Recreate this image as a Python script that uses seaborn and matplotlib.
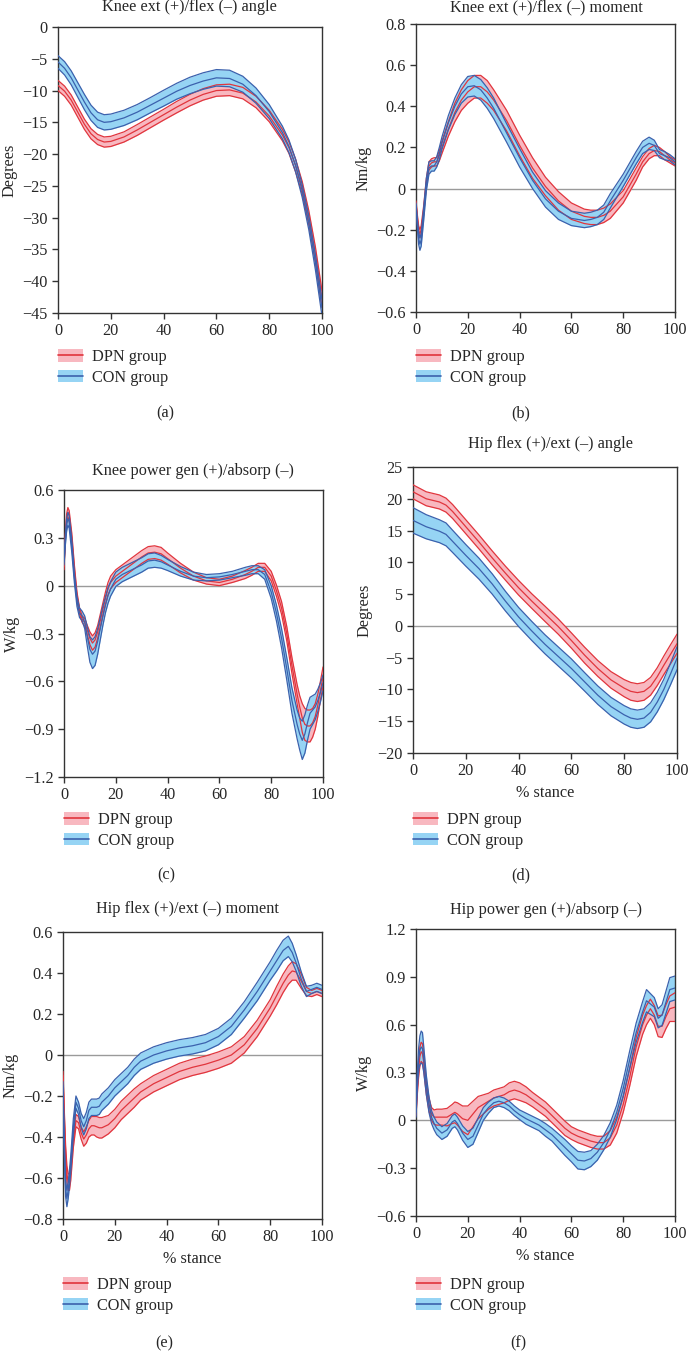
import numpy as np
import pandas as pd
import matplotlib
matplotlib.use("Agg")
import matplotlib.pyplot as plt
import seaborn as sns
from matplotlib.patches import Patch
from matplotlib.lines import Line2D
from matplotlib.ticker import FuncFormatter

# --- (a) Knee ext (+)/flex (-) angle ---
a_x = [0, 2.5, 5, 7.5, 10, 12.5, 15, 17.5, 20, 25, 30, 35, 40, 45, 50, 55, 60, 65, 70, 75,
       80, 85, 87.5, 90, 92.5, 95, 97.5, 100]
a_con_mean = [-5.5, -6.5, -8.0, -9.9, -11.8, -13.5, -14.6, -15.0, -14.9, -14.3, -13.4, -12.3, -11.2,
              -10.1, -9.2, -8.5, -8.0, -8.1, -9.0, -10.8, -13.3, -16.6, -18.8, -21.8, -25.8, -30.8,
              -37.0, -44.2]
a_con_sd = [1.0, 1.05, 1.1, 1.15, 1.2, 1.2, 1.2, 1.2, 1.2, 1.2, 1.2, 1.2, 1.25, 1.25, 1.3, 1.3, 1.3,
            1.3, 1.25, 1.2, 1.1, 1.0, 1.0, 1.0, 1.0, 1.1, 1.2, 1.3]
a_dpn_mean = [-9.2, -10.1, -11.5, -13.4, -15.3, -16.8, -17.7, -18.1, -18.0, -17.3, -16.2, -15.0, -13.8,
              -12.6, -11.5, -10.6, -10.0, -9.9, -10.4, -11.8, -14.0, -17.0, -19.0, -21.8, -25.3, -30.0,
              -35.8, -42.8]
a_dpn_sd = [0.8, 0.8, 0.8, 0.8, 0.8, 0.8, 0.8, 0.8, 0.8, 0.8, 0.85, 0.85, 0.85, 0.9, 0.9, 0.9, 0.9,
            0.9, 0.9, 0.9, 0.9, 0.9, 0.9, 1.0, 1.0, 1.1, 1.2, 1.3]

# --- (b) Knee ext (+)/flex (-) moment ---
b_x = [0, 0.5, 1, 1.5, 2, 3, 4, 5, 6, 7, 8, 9, 10, 12.5, 15, 17.5, 20, 22.5, 25, 27.5, 30, 35, 40,
       45, 50, 55, 60, 65, 67.5, 70, 72.5, 75, 80, 85, 87.5, 90, 92, 94, 96, 98, 100]
b_con_mean = [-0.08, -0.17, -0.24, -0.27, -0.25, -0.12, 0.02, 0.10, 0.11, 0.11, 0.13, 0.17, 0.22, 0.32,
              0.40, 0.46, 0.495, 0.50, 0.48, 0.44, 0.39, 0.27, 0.15, 0.04, -0.05, -0.11, -0.145, -0.155,
              -0.15, -0.14, -0.115, -0.06, 0.04, 0.15, 0.20, 0.22, 0.21, 0.17, 0.16, 0.15, 0.13]
b_con_sd = [0.01, 0.02, 0.03, 0.03, 0.03, 0.03, 0.03, 0.03, 0.025, 0.025, 0.025, 0.03, 0.03, 0.035, 0.04,
            0.045, 0.05, 0.05, 0.05, 0.05, 0.05, 0.045, 0.045, 0.04, 0.04, 0.04, 0.035, 0.035, 0.035, 0.035,
            0.035, 0.035, 0.03, 0.03, 0.03, 0.03, 0.025, 0.02, 0.02, 0.015, 0.015]
b_dpn_mean = [-0.07, -0.14, -0.20, -0.22, -0.20, -0.10, 0.03, 0.11, 0.125, 0.13, 0.13, 0.16, 0.20, 0.29,
              0.37, 0.43, 0.47, 0.495, 0.495, 0.47, 0.43, 0.33, 0.21, 0.10, 0.01, -0.06, -0.11, -0.135,
              -0.14, -0.14, -0.13, -0.11, -0.04, 0.07, 0.13, 0.17, 0.185, 0.18, 0.16, 0.14, 0.125]
b_dpn_sd = [0.01, 0.015, 0.02, 0.02, 0.02, 0.02, 0.02, 0.02, 0.02, 0.02, 0.02, 0.025, 0.03, 0.035, 0.045,
            0.05, 0.055, 0.055, 0.055, 0.055, 0.05, 0.05, 0.05, 0.05, 0.045, 0.045, 0.04, 0.035, 0.035,
            0.035, 0.035, 0.035, 0.03, 0.03, 0.025, 0.025, 0.025, 0.02, 0.02, 0.015, 0.015]

# --- (c) Knee power gen (+)/absorp (-) ---
c_x = [0, 0.5, 1, 1.5, 2, 3, 4, 5, 6, 7, 8, 9, 10, 11, 12, 13, 14, 15, 16, 17, 18, 20, 22.5, 25, 27.5,
       30, 32.5, 35, 37.5, 40, 45, 50, 55, 60, 65, 70, 72.5, 75, 77.5, 80, 82, 84, 86, 88, 90, 91, 92,
       93, 94, 95, 96, 97, 98, 99, 100]
c_con_mean = [0.15, 0.28, 0.38, 0.42, 0.40, 0.25, 0.05, -0.10, -0.17, -0.19, -0.23, -0.32, -0.40, -0.43,
              -0.41, -0.35, -0.27, -0.19, -0.12, -0.06, -0.02, 0.04, 0.07, 0.09, 0.11, 0.13, 0.155, 0.16,
              0.15, 0.13, 0.09, 0.06, 0.05, 0.055, 0.07, 0.09, 0.10, 0.10, 0.07, -0.04, -0.17, -0.33,
              -0.52, -0.72, -0.87, -0.93, -0.97, -0.93, -0.86, -0.80, -0.78, -0.76, -0.72, -0.67, -0.61]
c_con_sd = [0.02, 0.03, 0.04, 0.04, 0.04, 0.04, 0.03, 0.03, 0.03, 0.03, 0.04, 0.06, 0.08, 0.09, 0.09,
            0.08, 0.07, 0.06, 0.05, 0.05, 0.045, 0.045, 0.045, 0.045, 0.045, 0.045, 0.045, 0.045, 0.04,
            0.035, 0.03, 0.025, 0.02, 0.02, 0.02, 0.025, 0.025, 0.025, 0.03, 0.04, 0.05, 0.06, 0.07,
            0.08, 0.09, 0.1, 0.12, 0.12, 0.11, 0.1, 0.09, 0.08, 0.07, 0.06, 0.05]
c_dpn_mean = [0.12, 0.30, 0.42, 0.46, 0.44, 0.30, 0.10, -0.06, -0.16, -0.21, -0.23, -0.28, -0.33, -0.36,
              -0.34, -0.29, -0.22, -0.15, -0.08, -0.02, 0.02, 0.06, 0.09, 0.12, 0.15, 0.18, 0.205, 0.21,
              0.20, 0.17, 0.11, 0.06, 0.03, 0.02, 0.04, 0.07, 0.09, 0.115, 0.115, 0.06, -0.03, -0.14,
              -0.30, -0.50, -0.68, -0.76, -0.83, -0.87, -0.88, -0.88, -0.86, -0.82, -0.75, -0.66, -0.57]
c_dpn_sd = [0.02, 0.02, 0.03, 0.03, 0.03, 0.03, 0.03, 0.02, 0.02, 0.02, 0.025, 0.03, 0.04, 0.045, 0.045,
            0.04, 0.04, 0.04, 0.04, 0.04, 0.04, 0.04, 0.04, 0.04, 0.04, 0.04, 0.04, 0.04, 0.04, 0.035,
            0.03, 0.025, 0.02, 0.02, 0.02, 0.025, 0.025, 0.025, 0.025, 0.03, 0.035, 0.04, 0.045, 0.05,
            0.06, 0.07, 0.09, 0.1, 0.1, 0.1, 0.09, 0.08, 0.07, 0.06, 0.06]

# --- (d) Hip flex (+)/ext (-) angle ---
d_x = [0, 5, 10, 12.5, 15, 20, 25, 30, 35, 40, 45, 50, 55, 60, 65, 70, 75, 80, 82.5, 85, 87.5, 90,
       92.5, 95, 97.5, 100]
d_con_mean = [16.6, 15.6, 14.9, 14.4, 13.3, 11.1, 9.0, 6.6, 3.9, 1.4, -0.8, -2.9, -4.8, -6.7, -8.8,
              -10.9, -12.7, -14.0, -14.5, -14.7, -14.5, -13.6, -12.0, -10.0, -7.6, -5.1]
d_con_sd = [2.0, 1.9, 1.8, 1.8, 1.75, 1.7, 1.65, 1.6, 1.55, 1.5, 1.5, 1.5, 1.5, 1.5, 1.45, 1.45, 1.45,
            1.45, 1.45, 1.45, 1.45, 1.5, 1.55, 1.6, 1.7, 1.8]
d_dpn_mean = [21.1, 20.0, 19.5, 19.0, 18.0, 15.6, 13.2, 10.7, 8.3, 6.0, 3.9, 1.9, -0.1, -2.3, -4.6,
              -6.7, -8.5, -9.8, -10.3, -10.5, -10.3, -9.5, -8.0, -6.2, -4.5, -2.8]
d_dpn_sd = [1.1, 1.1, 1.1, 1.1, 1.1, 1.1, 1.1, 1.1, 1.1, 1.15, 1.15, 1.2, 1.2, 1.2, 1.25, 1.25, 1.3,
            1.35, 1.4, 1.4, 1.4, 1.4, 1.4, 1.45, 1.5, 1.5]

# --- (e) Hip flex (+)/ext (-) moment ---
e_x = [0, 0.5, 1, 1.5, 2, 2.5, 3, 4, 5, 6, 7, 8, 9, 10, 11, 12, 13, 14, 15, 17.5, 20, 22.5, 25, 27.5,
       30, 35, 40, 45, 50, 55, 60, 65, 70, 75, 80, 82.5, 85, 87, 88.5, 90, 92, 94, 96, 98, 100]
e_con_mean = [-0.15, -0.45, -0.65, -0.70, -0.66, -0.60, -0.53, -0.35, -0.23, -0.26, -0.32, -0.35,
              -0.32, -0.27, -0.255, -0.255, -0.255, -0.25, -0.23, -0.20, -0.16, -0.13, -0.10, -0.06,
              -0.03, 0.0, 0.02, 0.035, 0.045, 0.06, 0.09, 0.14, 0.22, 0.31, 0.41, 0.46, 0.51, 0.53,
              0.50, 0.45, 0.37, 0.31, 0.32, 0.33, 0.32]
e_con_sd = [0.02, 0.03, 0.04, 0.04, 0.04, 0.04, 0.04, 0.04, 0.03, 0.03, 0.035, 0.04, 0.04, 0.04, 0.04,
            0.04, 0.04, 0.04, 0.04, 0.04, 0.04, 0.04, 0.04, 0.04, 0.04, 0.04, 0.04, 0.04, 0.04, 0.04,
            0.04, 0.04, 0.04, 0.045, 0.045, 0.05, 0.05, 0.05, 0.045, 0.04, 0.035, 0.025, 0.02, 0.02,
            0.02]
e_dpn_mean = [-0.10, -0.30, -0.48, -0.58, -0.62, -0.62, -0.57, -0.42, -0.32, -0.33, -0.38, -0.41,
              -0.39, -0.36, -0.345, -0.345, -0.35, -0.355, -0.355, -0.34, -0.31, -0.27, -0.24, -0.21,
              -0.18, -0.14, -0.11, -0.08, -0.06, -0.045, -0.025, 0.0, 0.05, 0.13, 0.23, 0.29, 0.35,
              0.39, 0.41, 0.405, 0.36, 0.31, 0.30, 0.31, 0.30]
e_dpn_sd = [0.02, 0.03, 0.04, 0.04, 0.04, 0.04, 0.04, 0.03, 0.03, 0.03, 0.03, 0.035, 0.04, 0.04, 0.045,
            0.045, 0.05, 0.05, 0.05, 0.045, 0.045, 0.045, 0.045, 0.045, 0.04, 0.04, 0.04, 0.04, 0.04,
            0.04, 0.04, 0.04, 0.04, 0.04, 0.04, 0.045, 0.045, 0.045, 0.045, 0.04, 0.035, 0.02, 0.015,
            0.015, 0.015]

# --- (f) Hip power gen (+)/absorp (-) ---
f_x = [0, 0.5, 1, 1.5, 2, 2.5, 3, 4, 5, 6, 7, 8, 10, 12, 14, 15, 16, 18, 20, 22, 24, 26, 28, 30, 32,
       34, 36, 38, 40, 42.5, 45, 47.5, 50, 52.5, 55, 57.5, 60, 62.5, 65, 67.5, 70, 72.5, 75, 77.5, 80,
       82.5, 85, 87.5, 89, 90.5, 92, 93.5, 95, 96.5, 98, 100]
f_con_mean = [0.05, 0.25, 0.38, 0.44, 0.46, 0.45, 0.38, 0.22, 0.10, 0.02, -0.02, -0.05, -0.08, -0.06,
              -0.01, 0.0, -0.02, -0.08, -0.12, -0.10, -0.03, 0.04, 0.08, 0.11, 0.12, 0.11, 0.09, 0.06,
              0.035, 0.01, -0.01, -0.03, -0.06, -0.09, -0.13, -0.17, -0.21, -0.25, -0.255, -0.24, -0.20,
              -0.14, -0.06, 0.05, 0.20, 0.38, 0.55, 0.68, 0.75, 0.73, 0.71, 0.64, 0.66, 0.74, 0.82, 0.83]
f_con_sd = [0.03, 0.05, 0.07, 0.09, 0.1, 0.1, 0.08, 0.06, 0.05, 0.04, 0.04, 0.04, 0.04, 0.04, 0.04,
            0.04, 0.04, 0.045, 0.05, 0.05, 0.045, 0.04, 0.035, 0.03, 0.03, 0.03, 0.03, 0.03, 0.03,
            0.035, 0.035, 0.035, 0.04, 0.04, 0.045, 0.05, 0.05, 0.055, 0.055, 0.05, 0.05, 0.045, 0.045,
            0.045, 0.05, 0.055, 0.06, 0.065, 0.07, 0.065, 0.06, 0.06, 0.065, 0.07, 0.075, 0.075]
f_dpn_mean = [0.05, 0.20, 0.32, 0.40, 0.43, 0.42, 0.36, 0.20, 0.10, 0.04, 0.02, 0.02, 0.02, 0.02, 0.04,
              0.05, 0.04, 0.01, 0.0, 0.04, 0.08, 0.10, 0.12, 0.14, 0.15, 0.16, 0.18, 0.19, 0.18, 0.16,
              0.13, 0.10, 0.07, 0.03, -0.01, -0.05, -0.08, -0.10, -0.115, -0.13, -0.14, -0.14, -0.11,
              -0.03, 0.10, 0.27, 0.46, 0.60, 0.66, 0.70, 0.66, 0.59, 0.59, 0.65, 0.70, 0.71]
f_dpn_sd = [0.02, 0.04, 0.05, 0.06, 0.06, 0.06, 0.05, 0.04, 0.04, 0.04, 0.045, 0.05, 0.05, 0.055, 0.06,
            0.065, 0.07, 0.08, 0.09, 0.08, 0.07, 0.06, 0.05, 0.05, 0.05, 0.05, 0.055, 0.055, 0.055,
            0.05, 0.045, 0.045, 0.045, 0.045, 0.045, 0.045, 0.04, 0.04, 0.04, 0.04, 0.04, 0.04, 0.045,
            0.05, 0.05, 0.055, 0.06, 0.06, 0.06, 0.06, 0.06, 0.065, 0.07, 0.075, 0.08, 0.09]

groups = ["DPN group", "CON group"]
line_colors = {"DPN group": "#e1353d", "CON group": "#3b61ad"}
fill_colors = {"DPN group": "#f8b8c0", "CON group": "#96d4f4"}

W, H = 688, 1365

sns.set_theme(style="ticks")
plt.rcParams['font.family'] = ['Liberation Serif', 'DejaVu Serif']
plt.rcParams['axes.unicode_minus'] = True
FS = 11.7


def fmt(v, _):
    s = ('%.2f' % v).rstrip('0').rstrip('.')
    if s in ('-0', '0', ''):
        return '0'
    return s.replace('-', '\u2212')


def px_axes(left, right, top, bottom):
    return fig.add_axes([left / W, 1 - bottom / H, (right - left) / W, (bottom - top) / H])


def draw_panel(ax, x, dpn_m, dpn_s, con_m, con_s, ylim, yticks, ylabel, xlabel, zero):
    rows = []
    for g, m, s in [("DPN group", dpn_m, dpn_s), ("CON group", con_m, con_s)]:
        m = np.array(m)
        s = np.array(s)
        for name, vals in [("upper", m + s), ("mean", m), ("lower", m - s)]:
            for xi, vi in zip(x, vals):
                rows.append({"x": xi, "value": vi, "group": g, "line": name})
    df = pd.DataFrame(rows)

    if zero:
        ax.axhline(0, color="#9a9a9a", lw=1.0, zorder=1)
    for g in groups:
        up = df[(df.group == g) & (df.line == "upper")]
        lo = df[(df.group == g) & (df.line == "lower")]
        ax.fill_between(up["x"], up["value"], lo["value"].values, color=fill_colors[g], lw=0, zorder=2)
    sns.lineplot(data=df, x="x", y="value", hue="group", units="line", estimator=None,
                 palette=line_colors, lw=0.9, ax=ax, legend=False, zorder=3, sort=False)

    ax.set_xlim(0, 100)
    ax.set_ylim(*ylim)
    ax.set_xticks([0, 20, 40, 60, 80, 100])
    ax.set_yticks(yticks)
    ax.yaxis.set_major_formatter(FuncFormatter(fmt))
    ax.set_ylabel(ylabel, fontsize=FS, labelpad=3)
    ax.set_xlabel(xlabel, fontsize=FS, labelpad=4)
    ax.tick_params(labelsize=FS, length=4.5, width=1, color="#333333", pad=3)
    for sp in ax.spines.values():
        sp.set_visible(True)
        sp.set_color("#333333")
        sp.set_linewidth(1.0)


fig = plt.figure(figsize=(W / 100, H / 100), dpi=100)

panels = [
    # axes box px, data, ylim, yticks, ylabel, xlabel, zero, title, title pos, legend pos, letter pos
    ((58, 322, 27, 313), (a_x, a_dpn_mean, a_dpn_sd, a_con_mean, a_con_sd), (-45, 0),
     np.arange(-45, 1, 5), "Degrees", "", False, "Knee ext (+)/flex (\u2013) angle",
     (189, 11), (58, 349), (165, 413), "(a)"),
    ((416, 675, 24, 312), (b_x, b_dpn_mean, b_dpn_sd, b_con_mean, b_con_sd), (-0.6, 0.8),
     np.arange(-0.6, 0.81, 0.2), "Nm/kg", "", True, "Knee ext (+)/flex (\u2013) moment",
     (546, 11), (416, 349), (521, 413), "(b)"),
    ((64, 323, 490, 777), (c_x, c_dpn_mean, c_dpn_sd, c_con_mean, c_con_sd), (-1.2, 0.6),
     np.arange(-1.2, 0.61, 0.3), "W/kg", "", True, "Knee power gen (+)/absorp (\u2013)",
     (193, 475), (64, 812), (166, 875), "(c)"),
    ((413, 677, 467, 753), (d_x, d_dpn_mean, d_dpn_sd, d_con_mean, d_con_sd), (-20, 25),
     np.arange(-20, 26, 5), "Degrees", "% stance", True, "Hip flex (+)/ext (\u2013) angle",
     (550, 448), (413, 812), (521, 875), "(d)"),
    ((63, 322, 932, 1219), (e_x, e_dpn_mean, e_dpn_sd, e_con_mean, e_con_sd), (-0.8, 0.6),
     np.arange(-0.8, 0.61, 0.2), "Nm/kg", "% stance", True, "Hip flex (+)/ext (\u2013) moment",
     (187, 913), (63, 1277), (164, 1343), "(e)"),
    ((416, 675, 929, 1216), (f_x, f_dpn_mean, f_dpn_sd, f_con_mean, f_con_sd), (-0.6, 1.2),
     np.arange(-0.6, 1.21, 0.3), "W/kg", "% stance", True, "Hip power gen (+)/absorp (\u2013)",
     (546, 914), (416, 1277), (518, 1343), "(f)"),
]

for box, data, ylim, yticks, ylabel, xlabel, zero, title, tpos, lpos, ppos, letter in panels:
    ax = px_axes(*box)
    draw_panel(ax, *data, ylim, yticks, ylabel, xlabel, zero)
    fig.text(tpos[0] / W, 1 - tpos[1] / H, title, ha="center", va="baseline", fontsize=FS)
    fig.text(ppos[0] / W, 1 - ppos[1] / H, letter, ha="center", va="center", fontsize=FS)
    handles = [(Patch(facecolor=fill_colors[g], edgecolor="none"), Line2D([], [], color=line_colors[g], lw=1.2))
               for g in groups]
    ax.legend(handles, groups, loc="upper left", bbox_to_anchor=(lpos[0] / W, 1 - lpos[1] / H),
              bbox_transform=fig.transFigure, frameon=False, fontsize=FS, borderpad=0,
              borderaxespad=0, handlelength=1.55, handleheight=0.8, handletextpad=0.55,
              labelspacing=0.3)

fig.savefig("out.png", dpi=100)
